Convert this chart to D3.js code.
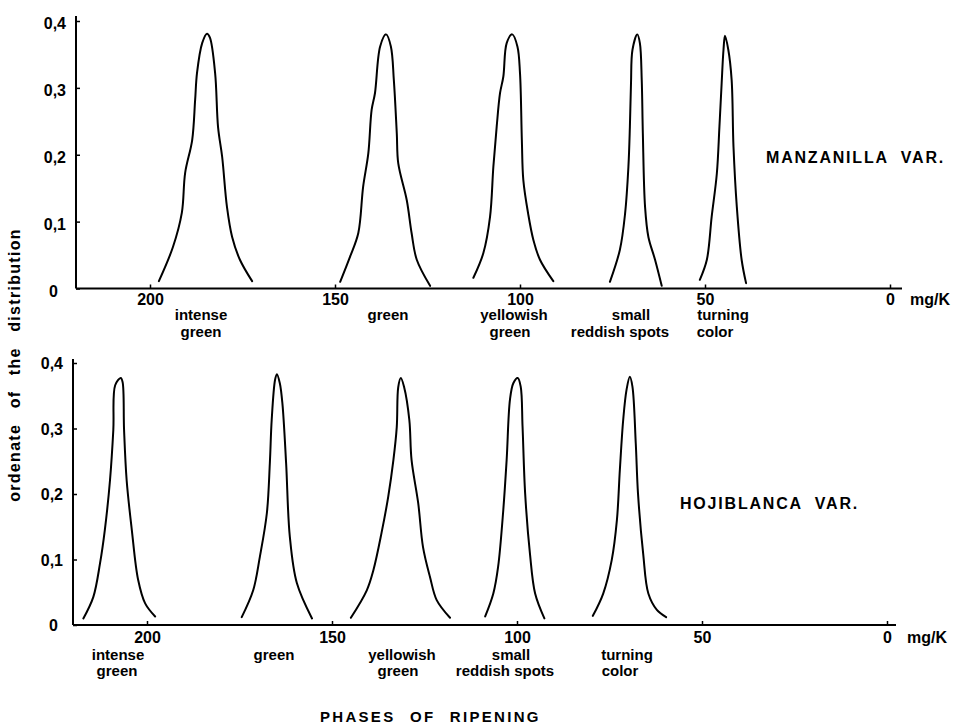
<!DOCTYPE html>
<html><head><meta charset="utf-8">
<script src="https://cdn.jsdelivr.net/npm/d3@7"></script>
<style>
body{margin:0;background:#fff}
text{font-family:"Liberation Sans",Arial,sans-serif;font-weight:bold;fill:#000}
</style>
</head><body>
<svg id="chart" width="958" height="726"></svg>
<script>
// ---------- data ----------
const categories = [["intense","green"],["green"],["yellowish","green"],["small","reddish spots"],["turning","color"]];
const varieties = ["MANZANILLA  VAR.","HOJIBLANCA  VAR."];
const xTicks = [200,150,100,50,0];
const yTicks = [0,0.1,0.2,0.3,0.4];
const xUnit = "mg/K";
const yTitle = "ordenate  of  the  distribution";
const xTitle = "PHASES OF RIPENING";

// Manzanilla: one array per ripening phase (x in mg/K, y ordinate)
const manzanillaX = [
  [197.6,193.8,191.4,190.5,188.6,187.8,187.3,185.9,184.6,183.8,182.4,181.6,180.5,179.2,177.8,175.7,172.4],
  [148.6,145.9,143.7,142.4,141.0,140.1,139.2,137.8,136.2,134.9,134.1,133.3,132.9,130.6,129.3,127.9,124.3],
  [112.6,109.9,108.1,107.2,106.3,105.4,104.5,103.6,102.1,100.7,100.0,99.5,99.1,97.8,96.4,94.6,91.0],
  [75.7,73.0,71.6,70.7,70.3,70.0,69.6,68.3,67.6,67.1,66.8,66.2,65.3,63.5,61.7],
  [51.4,49.5,48.2,46.8,46.1,45.5,45.0,44.6,43.7,42.8,42.3,41.4,40.1,38.9]
];
const manzanillaY = [
  [0.011,0.062,0.113,0.173,0.222,0.282,0.322,0.367,0.381,0.375,0.322,0.241,0.197,0.122,0.077,0.043,0.011],
  [0.010,0.048,0.083,0.152,0.202,0.267,0.292,0.362,0.380,0.362,0.312,0.232,0.187,0.132,0.083,0.043,0.004],
  [0.016,0.053,0.107,0.182,0.242,0.292,0.317,0.367,0.380,0.362,0.322,0.222,0.162,0.112,0.073,0.043,0.011],
  [0.010,0.058,0.112,0.182,0.242,0.307,0.357,0.380,0.367,0.312,0.232,0.122,0.077,0.043,0.004],
  [0.013,0.043,0.107,0.172,0.242,0.307,0.357,0.378,0.357,0.312,0.212,0.122,0.043,0.008]
];
// Hojiblanca
const hojiblancaX = [
  [217.2,214.5,212.7,211.4,210.0,209.1,208.6,207.1,206.6,206.2,205.5,204.1,202.4,200.5,197.8],
  [174.4,171.3,169.5,167.6,166.8,166.3,165.4,164.9,164.1,163.4,162.4,161.4,159.5,155.4],
  [144.9,140.6,138.8,136.6,134.8,133.4,132.5,132.1,131.4,130.5,129.1,128.5,126.7,125.4,123.5,121.7,118.1],
  [108.6,106.4,105.1,103.7,102.8,101.9,101.0,99.8,99.0,98.5,97.8,96.5,95.1,92.6],
  [79.5,76.7,74.4,73.0,72.2,71.3,70.4,69.5,68.8,67.9,67.3,65.9,64.5,62.2,59.7]
];
const hojiblancaY = [
  [0.010,0.043,0.094,0.145,0.221,0.298,0.366,0.377,0.371,0.298,0.221,0.145,0.069,0.033,0.013],
  [0.012,0.053,0.104,0.171,0.247,0.313,0.374,0.383,0.369,0.338,0.247,0.135,0.064,0.010],
  [0.011,0.053,0.084,0.141,0.196,0.252,0.302,0.363,0.377,0.363,0.313,0.252,0.186,0.119,0.073,0.038,0.011],
  [0.013,0.048,0.089,0.176,0.252,0.344,0.369,0.377,0.364,0.303,0.201,0.109,0.048,0.010],
  [0.014,0.048,0.099,0.160,0.237,0.313,0.359,0.379,0.364,0.277,0.201,0.109,0.048,0.023,0.012]
];

// ---------- layout ----------
const panels = [
  {label: varieties[0], xs: manzanillaX, ys: manzanillaY,
   left:76, right:890, base:288.5, top:21, axisTop:16, axisEnd:902, tickPad:5,
   line1:320, line2:337, labelX:[[201,201],[388],[514,510],[631,620],[723,715]],
   varX:766, varY:163, zeroDx:-18, yLabDy:2},
  {label: varieties[1], xs: hojiblancaX, ys: hojiblancaY,
   left:73, right:887, base:625, top:363, axisTop:359, axisEnd:896, tickPad:6.5,
   line1:660, line2:676, labelX:[[118,117],[274],[402,398],[511,505],[627,620]],
   varX:680, varY:509, zeroDx:-15, yLabDy:0}
];

const svg = d3.select("#chart");
const fmtY = d => d === 0 ? "0" : d3.format(".1f")(d).replace(".", ",");

panels.forEach(p => {
  const x = d3.scaleLinear().domain([220, 0]).range([p.left, p.right]);
  const y = d3.scaleLinear().domain([0, 0.4]).range([p.base, p.top]);
  const g = svg.append("g");

  // axis lines
  g.append("line").attr("x1", p.left).attr("x2", p.axisEnd)
    .attr("y1", p.base).attr("y2", p.base).attr("stroke", "#000").attr("stroke-width", 2);
  g.append("line").attr("x1", p.left).attr("x2", p.left)
    .attr("y1", p.base).attr("y2", p.axisTop).attr("stroke", "#000").attr("stroke-width", 2);

  // x axis ticks/labels
  const xa = g.append("g").attr("transform", `translate(0,${p.base})`)
    .call(d3.axisBottom(x).tickValues(xTicks).tickSizeInner(-4).tickSizeOuter(0).tickPadding(p.tickPad));
  xa.select(".domain").remove();
  xa.selectAll(".tick line").attr("stroke-width", 1.5);
  xa.selectAll("text").attr("font-size", 16).attr("font-family", null);

  g.append("text").attr("x", p.right + 20).attr("y", p.base + p.tickPad + 11.4)
    .attr("font-size", 16).text(xUnit);

  // y axis ticks/labels
  const ya = g.append("g").attr("transform", `translate(${p.left},0)`)
    .call(d3.axisLeft(y).tickValues(yTicks).tickFormat(fmtY).tickSizeInner(-4).tickSizeOuter(0).tickPadding(10));
  ya.select(".domain").remove();
  ya.selectAll(".tick line").attr("stroke-width", 1.5);
  ya.selectAll("text").attr("font-size", 16).attr("font-family", null)
    .attr("dy", null)
    .attr("y", 5.5 + p.yLabDy);
  ya.selectAll(".tick").filter(d => d === 0).select("text").attr("x", p.zeroDx);

  // curves
  const line = d3.line().x(d => x(d[0])).y(d => y(d[1])).curve(d3.curveCatmullRom.alpha(0.5));
  p.xs.forEach((xsArr, i) => {
    const pts = xsArr.map((v, j) => [v, p.ys[i][j]]);
    g.append("path").attr("d", line(pts)).attr("fill", "none")
      .attr("stroke", "#000").attr("stroke-width", 2).attr("stroke-linejoin", "round").attr("stroke-linecap", "round");
  });

  // category labels
  categories.forEach((lines, i) => {
    lines.forEach((t, k) => {
      g.append("text").attr("x", p.labelX[i][k]).attr("y", k === 0 ? p.line1 : p.line2)
        .attr("text-anchor", "middle").attr("font-size", 15).text(t);
    });
  });

  // variety label
  g.append("text").attr("x", p.varX).attr("y", p.varY).attr("font-size", 16)
    .attr("letter-spacing", 1.8).style("white-space", "pre").text(p.label);
});

// y title
svg.append("text").attr("transform", "translate(20,365) rotate(-90)")
  .attr("text-anchor", "middle").attr("font-size", 16).attr("letter-spacing", 1.3)
  .attr("word-spacing", 2).style("white-space", "pre").text(yTitle);

// x title
svg.append("text").attr("x", 320).attr("y", 722).attr("font-size", 15)
  .attr("letter-spacing", 2.3).attr("word-spacing", 8).text(xTitle);
</script>
</body></html>
